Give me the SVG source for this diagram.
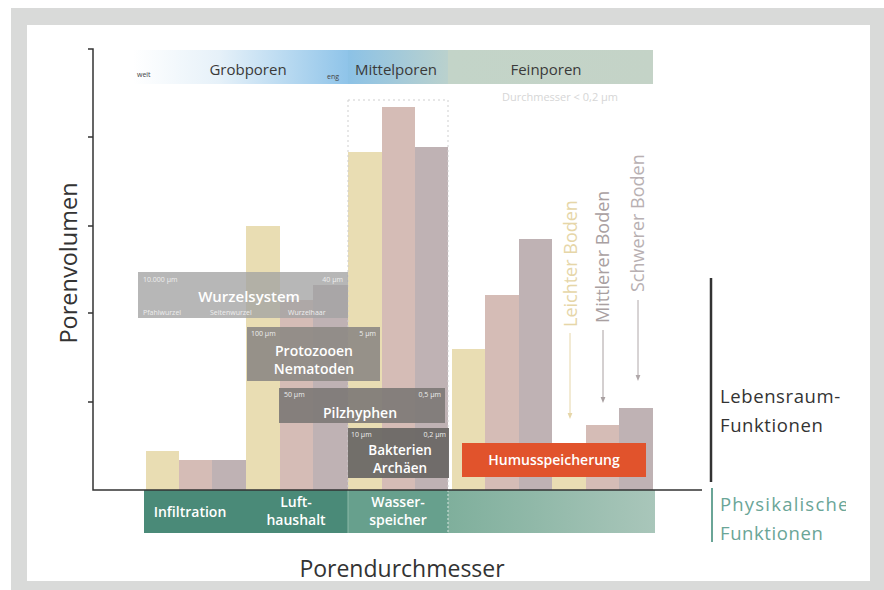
<svg xmlns="http://www.w3.org/2000/svg" width="884" height="590" viewBox="0 0 884 590">
<defs>
<linearGradient id="gGrob" x1="0" x2="1" y1="0" y2="0"><stop offset="0" stop-color="#ffffff"/><stop offset="0.4" stop-color="#e6f1f9"/><stop offset="1" stop-color="#8fc4e9"/></linearGradient>
<linearGradient id="gMittel" x1="0" x2="1" y1="0" y2="0"><stop offset="0" stop-color="#8cc2e6"/><stop offset="1" stop-color="#bad1cd"/></linearGradient>
<linearGradient id="gFein" x1="0" x2="1" y1="0" y2="0"><stop offset="0" stop-color="#c3d4c8"/><stop offset="1" stop-color="#c4d3c7"/></linearGradient>
<linearGradient id="gRest" x1="0" x2="1" y1="0" y2="0"><stop offset="0" stop-color="#7faf9c"/><stop offset="1" stop-color="#a9c6ba"/></linearGradient>
<clipPath id="clipR"><rect x="0" y="0" width="846" height="590"/></clipPath>
<marker id="arr" viewBox="0 0 10 10" refX="5" refY="5" markerWidth="6" markerHeight="6" orient="auto"><path d="M0,1 L10,5 L0,9 z" fill="context-stroke"/></marker>
<style>
.t{font-family:"Open Sans","Liberation Sans",sans-serif}
.w{fill:#ffffff;font-weight:600}
.sm{font-size:7px;fill:#eeeeee}
.yb{fill:#e9ddb3}
.pb{fill:#d5bcb6}
.mb{fill:#bfb2b4}
.ax{stroke:#333333;stroke-width:1.5;fill:none}
</style>
</defs>
<rect width="884" height="590" fill="#ffffff"/>
<rect x="11" y="8" width="873" height="582" fill="#d9dad9"/>
<rect x="27" y="25" width="843" height="556" fill="#ffffff"/>

<g id="headers">
<rect x="133" y="50" width="215" height="34" fill="url(#gGrob)"/>
<rect x="348" y="50" width="100" height="34" fill="url(#gMittel)"/>
<rect x="448" y="50" width="205" height="34" fill="url(#gFein)"/>
<text class="t" x="248" y="75" font-size="15" fill="#3a3a3a" text-anchor="middle">Grobporen</text>
<text class="t" x="137" y="77" font-size="7" fill="#444">weit</text>
<text class="t" x="333" y="79" font-size="7" fill="#444" text-anchor="middle">eng</text>
<text class="t" x="396" y="75" font-size="15" fill="#3a3a3a" text-anchor="middle">Mittelporen</text>
<text class="t" x="546" y="75" font-size="15" fill="#3a3a3a" text-anchor="middle">Feinporen</text>
<text class="t" x="560" y="101" font-size="11" fill="#d6d6d6" text-anchor="middle">Durchmesser &lt; 0,2 µm</text>
</g>

<g id="bars">
<rect class="yb" x="146" y="451" width="33" height="39"/>
<rect class="pb" x="179" y="460" width="33" height="30"/>
<rect class="mb" x="212" y="460" width="34" height="30"/>
<rect class="yb" x="246" y="226" width="34" height="264"/>
<rect class="pb" x="280" y="300" width="33" height="190"/>
<rect class="mb" x="313" y="285" width="35" height="205"/>
<rect class="yb" x="348" y="152" width="34" height="338"/>
<rect class="pb" x="382" y="107" width="33" height="383"/>
<rect class="mb" x="415" y="147" width="33" height="343"/>
<rect class="yb" x="452" y="349" width="33" height="141"/>
<rect class="pb" x="485" y="295" width="34" height="195"/>
<rect class="mb" x="519" y="239" width="33" height="251"/>
<rect class="yb" x="552" y="462" width="34" height="28"/>
<rect class="pb" x="586" y="425" width="33" height="65"/>
<rect class="mb" x="619" y="408" width="34" height="82"/>
<path d="M348,100 V490 M448,100 V490 M348,100 H448" stroke="#cfcfcf" stroke-width="1" stroke-dasharray="2,3" fill="none"/>
</g>

<g id="soil-labels">
<text class="t" transform="translate(577,327) rotate(-90)" font-size="18" fill="#e6d6a8">Leichter Boden</text>
<text class="t" transform="translate(609,323) rotate(-90)" font-size="18" fill="#a9a0a1">Mittlerer Boden</text>
<text class="t" transform="translate(644,292) rotate(-90)" font-size="18" fill="#b8b0b2">Schwerer Boden</text>
</g>

<g id="wurzelsystem">
<rect x="138" y="272" width="210" height="46" fill="#a3a3a3" fill-opacity="0.78"/>
<text class="t sm" x="143" y="282">10.000 µm</text>
<text class="t sm" x="343" y="282" text-anchor="end">40 µm</text>
<text class="t w" x="249" y="302" font-size="15" text-anchor="middle">Wurzelsystem</text>
<text class="t sm" x="143" y="315">Pfahlwurzel</text>
<text class="t sm" x="210" y="315">Seitenwurzel</text>
<text class="t sm" x="288" y="315">Wurzelhaar</text>
</g>

<g id="protozooen">
<rect x="247" y="327" width="133" height="54" fill="#8e8a86" fill-opacity="0.92"/>
<text class="t sm" x="251" y="336">100 µm</text>
<text class="t sm" x="376" y="336" text-anchor="end">5 µm</text>
<text class="t w" x="314" y="356" font-size="14" text-anchor="middle">Protozooen</text>
<text class="t w" x="314" y="374" font-size="14" text-anchor="middle">Nematoden</text>
</g>

<g id="pilzhyphen">
<rect x="279" y="388" width="166" height="35" fill="#7e7a77" fill-opacity="0.92"/>
<text class="t sm" x="284" y="397">50 µm</text>
<text class="t sm" x="441" y="397" text-anchor="end">0,5 µm</text>
<text class="t w" x="360" y="418" font-size="14" text-anchor="middle">Pilzhyphen</text>
</g>

<g id="bakterien">
<rect x="348" y="428" width="101" height="50" fill="#6b6866" fill-opacity="0.95"/>
<text class="t sm" x="351" y="437">10 µm</text>
<text class="t sm" x="446" y="437" text-anchor="end">0,2 µm</text>
<text class="t w" x="400" y="455" font-size="13.5" text-anchor="middle">Bakterien</text>
<text class="t w" x="400" y="473" font-size="13.5" text-anchor="middle">Archäen</text>
</g>

<g id="humus">
<rect x="462" y="443" width="184" height="34" fill="#e1532c"/>
<text class="t w" x="554" y="465" font-size="14" text-anchor="middle">Humusspeicherung</text>
</g>

<g id="physical-bands">
<rect x="144" y="490" width="204" height="43" fill="#4a8a78"/>
<rect x="348" y="490" width="100" height="43" fill="#67a08d"/>
<rect x="448" y="490" width="207" height="43" fill="url(#gRest)"/>
<path d="M448,490 V533" stroke="#d8e6df" stroke-width="1" stroke-dasharray="2,2"/>
<path d="M348,490 V533" stroke="#8dbaa9" stroke-width="1"/>
<text class="t w" x="190" y="517" font-size="14" text-anchor="middle">Infiltration</text>
<text class="t w" x="296" y="507" font-size="14" text-anchor="middle">Luft-</text>
<text class="t w" x="296" y="525" font-size="14" text-anchor="middle">haushalt</text>
<text class="t w" x="398" y="507" font-size="14" text-anchor="middle">Wasser-</text>
<text class="t w" x="398" y="525" font-size="14" text-anchor="middle">speicher</text>
</g>

<g id="connectors">
<path class="ax" d="M88,49 H93 V490 H702"/>
<path class="ax" d="M88,137 H93 M88,226 H93 M88,313 H93 M88,402 H93"/>
<path d="M570,333 V416" stroke="#e6d6a8" stroke-width="1" marker-end="url(#arr)"/>
<path d="M603,330 V400" stroke="#a9a0a1" stroke-width="1" marker-end="url(#arr)"/>
<path d="M638,300 V378" stroke="#b0a8aa" stroke-width="1" marker-end="url(#arr)"/>
<path d="M711,278 V482" stroke="#333333" stroke-width="2.5"/>
<path d="M712,488 V542" stroke="#6aa597" stroke-width="2"/>
</g>

<g id="axis-titles">
<text class="t" transform="translate(77,263) rotate(-90)" font-size="23.5" fill="#333" text-anchor="middle">Porenvolumen</text>
<text class="t" x="402" y="577" font-size="23" fill="#333" text-anchor="middle">Porendurchmesser</text>
</g>

<g id="function-labels">
<text class="t" x="720" y="403" font-size="18.5" fill="#333" letter-spacing="0.6">Lebensraum-</text>
<text class="t" x="720" y="432" font-size="18.5" fill="#333" letter-spacing="0.6">Funktionen</text>
<text class="t" x="720" y="511" font-size="18.5" fill="#6aa597" letter-spacing="1.2" clip-path="url(#clipR)">Physikalische</text>
<text class="t" x="720" y="540" font-size="18.5" fill="#6aa597" letter-spacing="0.6">Funktionen</text>
</g>
<rect x="870" y="25" width="14" height="565" fill="#d9dad9"/>
</svg>
